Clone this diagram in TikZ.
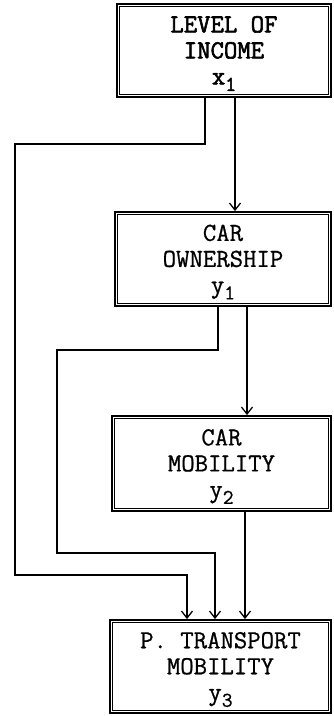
\documentclass[tikz,border=0pt]{standalone}
\usepackage{fontspec}
\setmonofont{Latin Modern Mono}[UprightFeatures={FakeBold=0.8}, BoldFont={Latin Modern Mono}, BoldFeatures={FakeBold=2.2}]
\usetikzlibrary{arrows.meta,calc}
\newcommand{\mysub}[1]{\raisebox{-0.25em}{\fontsize{21}{21}\selectfont #1}}
\tikzset{
  varbox/.style={draw, line width=1.8pt, inner sep=0pt},
  vartext/.style={align=center, inner sep=0pt,
    font=\fontsize{26}{26}\selectfont\ttfamily},
  inner/.style={line width=0.8pt},
  link/.style={line width=1.3pt},
  arr/.style={link, -{Straight Barb[length=7pt,width=11pt,line width=1.3pt]}}
}
\begin{document}
\begin{tikzpicture}[x=1pt,y=1pt]
\useasboundingbox (0,0) rectangle (333,-716);
\node[varbox, minimum width=214pt, minimum height=93pt] (b1) at (224,-50.5) {};
\node[varbox, minimum width=216pt, minimum height=94pt] (b2) at (223,-259) {};
\node[varbox, minimum width=219pt, minimum height=95pt] (b3) at (221.5,-463.5) {};
\node[varbox, minimum width=221pt, minimum height=93pt] (b4) at (220.5,-666.5) {};
\node[vartext, yshift=-3pt] (t1) at (b1.center) {\bfseries LEVEL OF\\\bfseries INCOME\\\bfseries x\mysub{1}};
\node[vartext, yshift=-3pt] (t2) at (b2.center) {CAR\\OWNERSHIP\\y\mysub{1}};
\node[vartext, yshift=-3pt] (t3) at (b3.center) {CAR\\MOBILITY\\y\mysub{2}};
\node[vartext, yshift=-3pt] (t4) at (b4.center) {P. TRANSPORT\\MOBILITY\\y\mysub{3}};
\foreach \b in {b1,b2,b3,b4}{
  \draw[inner] ([shift={(3.5pt,-3.5pt)}]\b.north west) rectangle ([shift={(-3.5pt,3.5pt)}]\b.south east);
}
% x positions
\coordinate (xa) at (235,0);
\coordinate (xb) at (205,0);
\coordinate (xd) at (187,0);
\coordinate (xe) at (247,0);
\coordinate (xf) at (218,0);
\coordinate (xh) at (215,0);
\coordinate (xi) at (245,0);
\draw[arr] (b1.south -| xa) -- (b2.north -| xa);
\draw[arr] (b2.south -| xe) -- (b3.north -| xe);
\draw[arr] (b3.south -| xi) -- (b4.north -| xi);
\draw[arr] (b1.south -| xb) |- (15,-144) |- (187,-575) -- (b4.north -| xd);
\draw[arr] (b2.south -| xf) |- (57,-350) |- (215,-553) -- (b4.north -| xh);
\end{tikzpicture}
\end{document}
